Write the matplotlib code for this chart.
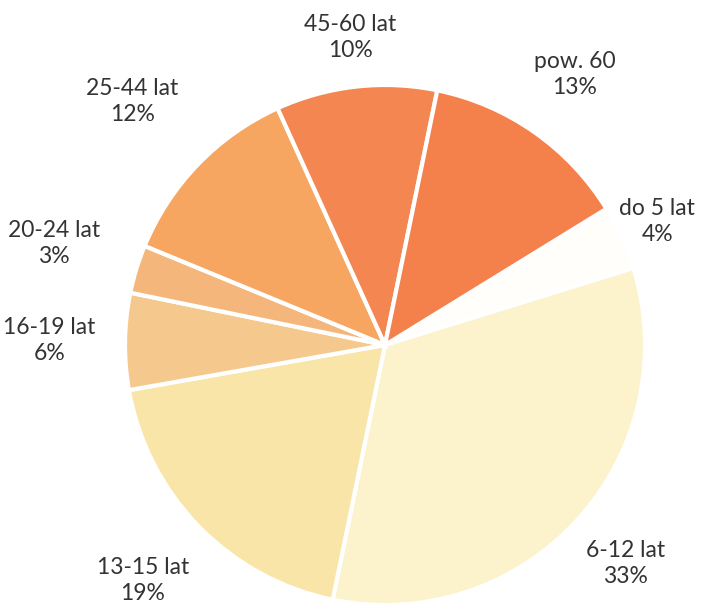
import numpy as np
import matplotlib
matplotlib.use("Agg")
import matplotlib.pyplot as plt

# age groups and their share (%)
labels = ["do 5 lat", "6-12 lat", "13-15 lat", "16-19 lat",
          "20-24 lat", "25-44 lat", "45-60 lat", "pow. 60"]
shares = [4, 33, 19, 6, 3, 12, 10, 13]
colors = ["#FFFEFA", "#FCF2CB", "#F9E5A8", "#F5C98E",
          "#F4B67A", "#F6A660", "#F38651", "#F4804B"]
# how far out each label sits (in pie radii)
label_dist = [1.15, 1.25, 1.30, 1.29, 1.33, 1.35, 1.19, 1.27]

R_PX = 260
fig = plt.figure(figsize=(7.2, 6.03), dpi=100)
ax = fig.add_axes([0, 0, 1, 1])

start = 90 - 58.4
wedges, _ = ax.pie(shares, colors=colors, startangle=start, counterclock=False,
                   radius=1.0, wedgeprops=dict(edgecolor="white", linewidth=3))

for w, lab, s, d in zip(wedges, labels, shares, label_dist):
    mid = np.deg2rad((w.theta1 + w.theta2) / 2)
    ax.text(d * np.cos(mid), d * np.sin(mid), f"{lab}\n{s}%",
            ha="center", va="center", fontsize=16.5, color="#333333",
            family="Lato", linespacing=1.3)

# pie() resets the limits, so put the centre where the reference has it
ax.set_xlim(-385 / R_PX, (720 - 385) / R_PX)
ax.set_ylim(-(603 - 345) / R_PX, 345 / R_PX)
ax.set_aspect("equal")
ax.axis("off")

fig.savefig("out.png", dpi=100)
